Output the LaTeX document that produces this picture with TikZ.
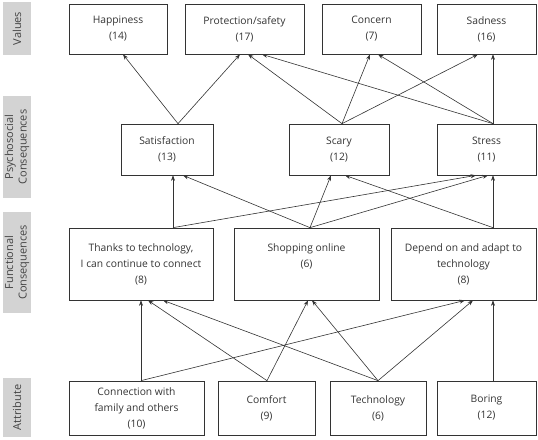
\documentclass[tikz,border=0pt]{standalone}
\usepackage{fontspec}
\setmainfont{Open Sans}
\usetikzlibrary{arrows.meta}
\definecolor{txt}{HTML}{333333}
\definecolor{lblfill}{HTML}{D3D3D3}
\definecolor{lbltxt}{HTML}{444444}
\begin{document}
\begin{tikzpicture}[x=1pt,y=-1pt,
  box/.style={draw=txt,line width=0.7pt,rectangle,align=center,text=txt,
    font=\fontsize{10.3}{16}\selectfont,inner sep=0pt},
  lbl/.style={fill=lblfill,rectangle,minimum width=28pt,inner sep=0pt,
    text=lbltxt,align=center,rotate=90,font=\fontsize{11}{13.5}\selectfont},
  conn/.style={draw=txt,line width=0.6pt,-{Stealth[length=5.5pt,width=4pt]}}]
\useasboundingbox (0,0) rectangle (538,439);
% side labels
\node[lbl,minimum height=28pt,minimum width=53pt] (lv) at (17,28.5) {Values};
\node[lbl,minimum height=28pt,minimum width=102pt] (lp) at (17,147) {Psychosocial\\Consequences};
\node[lbl,minimum height=28pt,minimum width=101pt] (lf) at (17,262.5) {Functional\\Consequences};
\node[lbl,minimum height=28pt,minimum width=59pt] (la) at (17,407.5) {Attribute};
% values
\node[box,minimum width=98pt,minimum height=50pt] (hap) at (118,29) {Happiness\\(14)};
\node[box,minimum width=119pt,minimum height=50pt] (pro) at (244.5,29) {Protection/safety\\(17)};
\node[box,minimum width=99pt,minimum height=50pt] (con) at (371.5,29) {Concern\\(7)};
\node[box,minimum width=99pt,minimum height=50pt] (sad) at (486.5,29) {Sadness\\(16)};
% psychosocial
\node[box,minimum width=92pt,minimum height=51pt] (sat) at (167,149.5) {Satisfaction\\(13)};
\node[box,minimum width=100pt,minimum height=51pt] (sca) at (339,149.5) {Scary\\(12)};
\node[box,minimum width=99pt,minimum height=51pt] (str) at (486.5,149.5) {Stress\\(11)};
% functional
\node[box,minimum width=144pt,minimum height=72pt] (tha) at (141,264) {Thanks to technology,\\I can continue to connect\\(8)};
\node[box,minimum width=145pt,minimum height=72pt] (sho) at (306.5,264) {Shopping online\\(6)\\\phantom{(6)}};
\node[box,minimum width=145pt,minimum height=72pt] (dep) at (463.5,264) {Depend on and adapt to\\technology\\(8)};
% attribute
\node[box,minimum width=135pt,minimum height=54pt] (cwf) at (136.5,408) {Connection with\\family and others\\(10)};
\node[box,minimum width=97pt,minimum height=54pt] (com) at (266.5,408) {Comfort\\(9)};
\node[box,minimum width=96pt,minimum height=54pt] (tec) at (378,408) {Technology\\(6)};
\node[box,minimum width=99pt,minimum height=54pt] (bor) at (486.5,408) {Boring\\(12)};
% psychosocial -> values
\draw[conn] ([xshift=11pt]sat.north) -- ([xshift=5pt]hap.south);
\draw[conn] ([xshift=11pt]sat.north) -- ([xshift=-4.5pt]pro.south);
\draw[conn] ([xshift=3pt]sca.north) -- ([xshift=3.5pt]pro.south);
\draw[conn] ([xshift=3pt]sca.north) -- ([xshift=-1.5pt]con.south);
\draw[conn] ([xshift=3pt]sca.north) -- ([xshift=-8.5pt]sad.south);
\draw[conn] ([xshift=6.5pt]str.north) -- ([xshift=17.5pt]pro.south);
\draw[conn] ([xshift=6.5pt]str.north) -- ([xshift=6.5pt]con.south);
\draw[conn] ([xshift=6.5pt]str.north) -- ([xshift=6.5pt]sad.south);
% functional -> psychosocial
\draw[conn] ([xshift=32pt]tha.north) -- ([xshift=6pt]sat.south);
\draw[conn] ([xshift=32pt]tha.north) -- ([xshift=-10.5pt]str.south);
\draw[conn] ([xshift=3.5pt]sho.north) -- ([xshift=16pt]sat.south);
\draw[conn] ([xshift=3.5pt]sho.north) -- ([xshift=-8pt]sca.south);
\draw[conn] ([xshift=3.5pt]sho.north) -- ([xshift=1.5pt]str.south);
\draw[conn] ([xshift=29.5pt]dep.north) -- ([xshift=6pt]sca.south);
\draw[conn] ([xshift=29.5pt]dep.north) -- ([xshift=6.5pt]str.south);
% attribute -> functional
\draw[conn] ([xshift=4.5pt]cwf.north) -- (tha.south);
\draw[conn] ([xshift=4.5pt]cwf.north) -- ([xshift=1.5pt]dep.south);
\draw[conn] ([xshift=0.5pt]com.north) -- ([xshift=7pt]tha.south);
\draw[conn] ([xshift=0.5pt]com.north) -- ([xshift=1.5pt]sho.south);
\draw[conn] (tec.north) -- ([xshift=22pt]tha.south);
\draw[conn] (tec.north) -- ([xshift=5.5pt]sho.south);
\draw[conn] (tec.north) -- ([xshift=9.5pt]dep.south);
\draw[conn] ([xshift=6.5pt]bor.north) -- ([xshift=29.5pt]dep.south);
\end{tikzpicture}
\end{document}
